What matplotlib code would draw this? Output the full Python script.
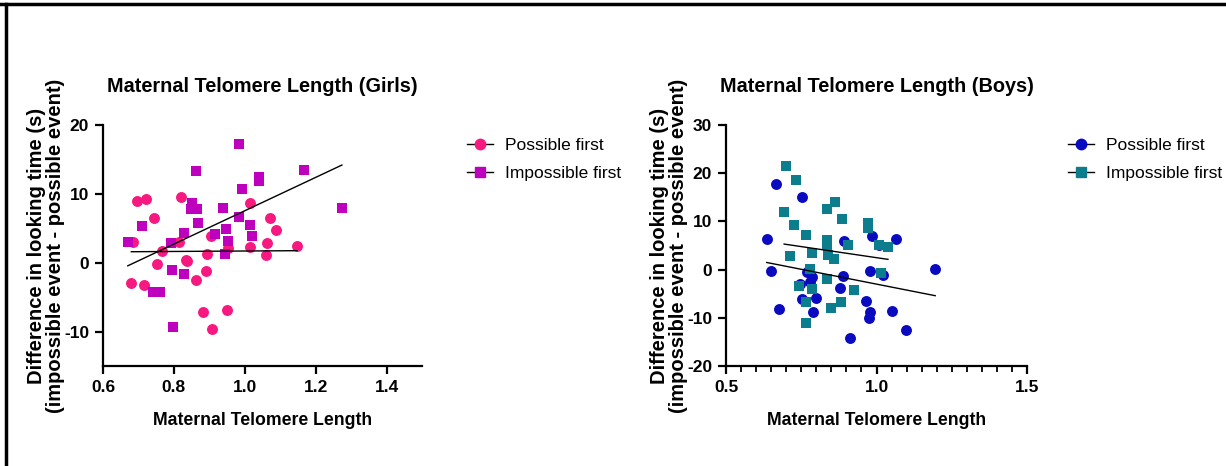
import numpy as np
import matplotlib
matplotlib.use('Agg')
import matplotlib.pyplot as plt
from matplotlib.lines import Line2D
from matplotlib.ticker import MultipleLocator

plt.rcParams['font.family'] = ['Liberation Sans', 'DejaVu Sans']
plt.rcParams['axes.unicode_minus'] = False

# girls - possible first
girls_pos_x = [0.684, 0.697, 0.722, 0.744, 0.680, 0.716, 0.766, 0.753, 0.820, 0.815,
               0.833, 0.838, 0.862, 0.890, 0.894, 0.883, 0.908, 0.906, 0.949, 0.954,
               1.014, 1.014, 1.062, 1.060, 1.071, 1.089, 1.147]
girls_pos_y = [3.0, 8.9, 9.3, 6.5, -2.9, -3.2, 1.7, -0.2, 9.5, 3.0,
               0.4, 0.3, -2.5, -1.2, 1.3, -7.2, -9.7, 3.9, -6.8, 2.2,
               8.6, 2.3, 2.8, 1.1, 6.5, 4.8, 2.4]

# girls - impossible first
girls_imp_x = [0.670, 0.710, 0.741, 0.761, 0.792, 0.796, 0.797, 0.829, 0.829, 0.852,
               0.847, 0.865, 0.862, 0.867, 0.916, 0.939, 0.946, 0.954, 0.945, 0.983,
               0.984, 0.993, 1.014, 1.021, 1.040, 1.040, 1.168, 1.274]
girls_imp_y = [3.0, 5.3, -4.2, -4.3, 2.8, -1.0, -9.3, 4.3, -1.6, 8.6,
               7.8, 7.8, 13.3, 5.7, 4.2, 7.9, 4.9, 3.1, 1.2, 6.7,
               17.2, 10.7, 5.5, 3.9, 12.5, 11.8, 13.4, 7.9]

# boys - possible first
boys_pos_x = [0.635, 0.650, 0.666, 0.677, 0.754, 0.745, 0.751, 0.770, 0.786, 0.779,
              0.789, 0.799, 0.877, 0.889, 0.893, 0.912, 0.964, 0.978, 0.979, 0.974,
              0.985, 1.009, 1.021, 1.052, 1.065, 1.097, 1.195]
boys_pos_y = [6.3, -0.2, 17.8, -8.2, 15.1, -3.0, -6.1, -0.6, -1.6, -2.5,
              -8.8, -5.9, -3.9, -1.3, 6.0, -14.2, -6.6, -0.2, -8.8, -10.1,
              7.0, 5.0, -1.2, -8.5, 6.3, -12.6, 0.1]

# boys - impossible first
boys_imp_x = [0.698, 0.734, 0.693, 0.725, 0.766, 0.712, 0.787, 0.778, 0.741, 0.787,
              0.766, 0.766, 0.836, 0.862, 0.886, 0.836, 0.836, 0.839, 0.859, 0.836,
              0.849, 0.882, 0.905, 0.925, 0.971, 0.971, 1.007, 1.015, 1.038]
boys_imp_y = [21.5, 18.6, 11.9, 9.3, 7.2, 2.8, 3.4, 0.1, -3.4, -4.0,
              -6.7, -11.0, 12.6, 14.1, 10.4, 6.1, 5.2, 3.0, 2.1, -1.9,
              -7.9, -6.7, 5.0, -4.3, 9.7, 8.6, 5.2, -0.7, 4.6]

pink = '#F7197F'
magenta = '#BE00BE'
blue = '#0A0AC0'
teal = '#0B7D8C'

fig = plt.figure(figsize=(12.26, 4.66), dpi=100)

# frame lines along top and left edge
fig.add_artist(Line2D([0, 1], [0.991, 0.991], color='black', lw=2.5, transform=fig.transFigure))
fig.add_artist(Line2D([0.0052, 0.0052], [0, 0.991], color='black', lw=2.5, transform=fig.transFigure))

ax1 = fig.add_axes([0.0840, 0.2146, 0.2602, 0.5172])
ax2 = fig.add_axes([0.5922, 0.2146, 0.2455, 0.5172])


def fit_line(ax, x, y):
    x = np.array(x)
    y = np.array(y)
    m, b = np.polyfit(x, y, 1)
    xs = np.array([x.min(), x.max()])
    ax.plot(xs, m * xs + b, color='black', lw=1.0, zorder=3)


def style_axes(ax, title):
    for s in ['top', 'right']:
        ax.spines[s].set_visible(False)
    for s in ['left', 'bottom']:
        ax.spines[s].set_linewidth(1.6)
    ax.tick_params(which='major', direction='out', length=6, width=1.6, labelsize=12.5, pad=4)
    ax.tick_params(which='minor', direction='out', length=4, width=1.3)
    for lab in ax.get_xticklabels() + ax.get_yticklabels():
        lab.set_fontweight('bold')
    ax.set_title(title, fontsize=14.3, fontweight='bold', pad=24)
    ax.set_xlabel('Maternal Telomere Length', fontsize=12.7, fontweight='bold', labelpad=12)
    ax.set_ylabel('Difference in looking time (s)\n(impossible event - possible event)',
                  fontsize=14.5, fontweight='bold', labelpad=-1, linespacing=1.02)


# girls
ax1.scatter(girls_pos_x, girls_pos_y, marker='o', s=62, color=pink, zorder=2, linewidths=0)
ax1.scatter(girls_imp_x, girls_imp_y, marker='s', s=62, color=magenta, zorder=2, linewidths=0)
fit_line(ax1, girls_pos_x, girls_pos_y)
fit_line(ax1, girls_imp_x, girls_imp_y)
ax1.set_xlim(0.6, 1.5)
ax1.set_ylim(-15, 20)
ax1.set_xticks([0.6, 0.8, 1.0, 1.2, 1.4])
ax1.set_yticks([-10, 0, 10, 20])
style_axes(ax1, 'Maternal Telomere Length (Girls)')

# boys
ax2.scatter(boys_pos_x, boys_pos_y, marker='o', s=62, color=blue, zorder=2, linewidths=0)
ax2.scatter(boys_imp_x, boys_imp_y, marker='s', s=62, color=teal, zorder=2, linewidths=0)
fit_line(ax2, boys_pos_x, boys_pos_y)
fit_line(ax2, boys_imp_x, boys_imp_y)
ax2.set_xlim(0.5, 1.5)
ax2.set_ylim(-20, 30)
ax2.set_xticks([0.5, 1.0, 1.5])
ax2.xaxis.set_minor_locator(MultipleLocator(0.05))
ax2.set_yticks([-20, -10, 0, 10, 20, 30])
style_axes(ax2, 'Maternal Telomere Length (Boys)')


def legend_for(ax, c1, c2, x0):
    handles = [Line2D([], [], color='black', lw=1.0, marker='o', markersize=7.5,
                      markerfacecolor=c1, markeredgecolor=c1),
               Line2D([], [], color='black', lw=1.0, marker='s', markersize=7,
                      markerfacecolor=c2, markeredgecolor=c2)]
    ax.legend(handles, ['Possible first', 'Impossible first'], loc='upper left',
              bbox_to_anchor=(x0, 0.738), bbox_transform=fig.transFigure,
              frameon=False, fontsize=12.5, handlelength=1.5, handletextpad=0.7,
              labelspacing=0.75)


legend_for(ax1, pink, magenta, 0.368)
legend_for(ax2, blue, teal, 0.858)

fig.savefig('out.png', dpi=100)
